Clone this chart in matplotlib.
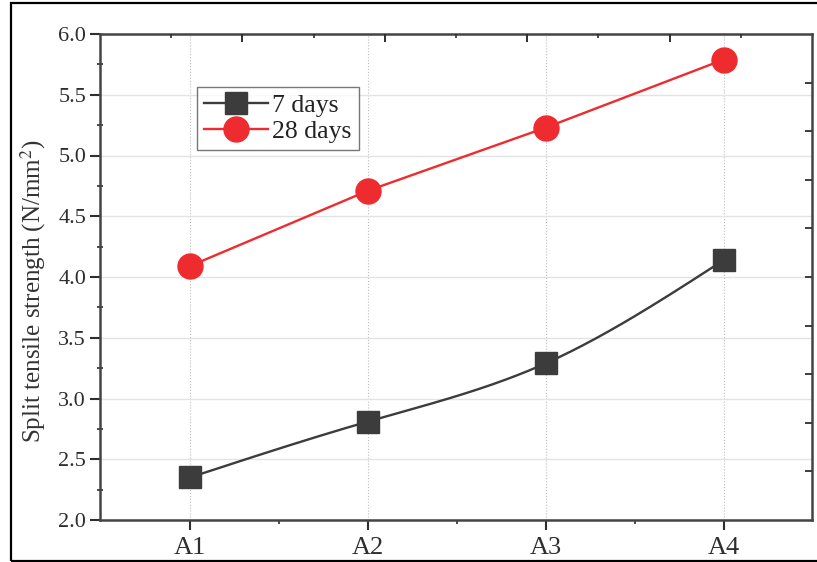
import numpy as np
import matplotlib
matplotlib.use("Agg")
import matplotlib.pyplot as plt
from matplotlib.patches import Rectangle
from matplotlib.lines import Line2D

categories = ["A1", "A2", "A3", "A4"]
days7 = [2.35, 2.81, 3.29, 4.14]
days28 = [4.09, 4.71, 5.23, 5.79]
yticks = [2.0, 2.5, 3.0, 3.5, 4.0, 4.5, 5.0, 5.5, 6.0]


def natural_spline(x, y, n=200):
    x = np.asarray(x, float); y = np.asarray(y, float)
    k = len(x); h = np.diff(x)
    A = np.zeros((k, k)); b = np.zeros(k)
    A[0, 0] = A[-1, -1] = 1
    for i in range(1, k - 1):
        A[i, i - 1] = h[i - 1]; A[i, i] = 2 * (h[i - 1] + h[i]); A[i, i + 1] = h[i]
        b[i] = 6 * ((y[i + 1] - y[i]) / h[i] - (y[i] - y[i - 1]) / h[i - 1])
    M = np.linalg.solve(A, b)
    xs = np.linspace(x[0], x[-1], n)
    idx = np.clip(np.searchsorted(x, xs) - 1, 0, k - 2)
    x0, x1 = x[idx], x[idx + 1]; hh = x1 - x0
    ys = (M[idx] * (x1 - xs) ** 3 / (6 * hh) + M[idx + 1] * (xs - x0) ** 3 / (6 * hh)
          + (y[idx] / hh - M[idx] * hh / 6) * (x1 - xs)
          + (y[idx + 1] / hh - M[idx + 1] * hh / 6) * (xs - x0))
    return xs, ys


plt.rcParams["font.family"] = ["Liberation Serif", "DejaVu Serif"]
plt.rcParams["mathtext.fontset"] = "stix"

fig = plt.figure(figsize=(8.17, 5.62), dpi=100)
ax = fig.add_axes([100 / 817, 42 / 562, 712 / 817, 486 / 562])

x = np.arange(1, len(categories) + 1)
black = "#3c3c3c"
red = "#ee2b2f"

xs, ys = natural_spline(x, days7)
ax.plot(xs, ys, color=black, lw=1.7, zorder=3)
ax.plot(x, days7, ls="none", marker="s", ms=16, color=black, mec=black, zorder=4)
ax.plot(x, days28, color=red, lw=1.7, marker="o", ms=18, mfc=red, mec=red, zorder=4)

ax.set_xlim(0.495, 4.495)
ax.set_ylim(2.0, 6.0)
ax.set_xticks(x)
ax.set_xticklabels(categories)
ax.set_xticks([1.5, 2.5, 3.5], minor=True)
ax.set_yticks(yticks)
ax.set_yticklabels([f"{v:.1f}" for v in yticks])
ax.set_yticks(np.arange(2.25, 6.0, 0.5), minor=True)

tc = "#2e2e2e"
ax.tick_params(axis="x", which="major", direction="out", length=7, width=1.5,
               labelsize=19, colors=tc, pad=5)
ax.tick_params(axis="x", which="minor", direction="out", length=3, width=1.2, colors=tc)
ax.tick_params(axis="y", which="major", direction="out", length=7, width=1.5,
               labelsize=16, colors=tc, pad=3)
ax.tick_params(axis="y", which="minor", direction="inout", length=4, width=1.2, colors=tc)

for s in ax.spines.values():
    s.set_linewidth(1.8)
    s.set_color("#444444")

# grid
ax.grid(axis="x", which="major", color="#bdbdbd", lw=0.8, ls=":")
ax.grid(axis="y", which="major", color="#e3e3e3", lw=1.0, ls="-")
ax.set_axisbelow(True)

ax.set_ylabel("Split tensile strength (N/mm$^2$)", fontsize=18, color="#333333")
ax.yaxis.set_label_coords(-0.094, 0.47)
ax.yaxis.label.set_va("center")

# top & right ticks (inward, unlabelled)
axt = ax.twiny()
axt.set_xlim(0, 10)
axt.set_xticks([2, 4, 6, 8])
axt.set_xticks([1, 3, 5, 7, 9], minor=True)
axt.tick_params(axis="x", which="major", direction="in", length=6, width=1.4,
                labeltop=False, colors=tc)
axt.tick_params(axis="x", which="minor", direction="in", length=3, width=1.2, colors=tc)
axr = ax.twinx()
axr.set_ylim(0, 10)
axr.set_yticks(range(1, 10))
axr.tick_params(axis="y", direction="in", length=5, width=1.3, labelright=False, colors=tc)
for a in (axt, axr):
    for s in a.spines.values():
        s.set_visible(False)

handles = [Line2D([], [], color=black, lw=1.7, marker="s", ms=16),
           Line2D([], [], color=red, lw=1.7, marker="o", ms=18)]
leg = ax.legend(handles, ["7 days", "28 days"], loc="upper left",
                bbox_to_anchor=(0.136, 0.891), borderaxespad=0, fontsize=18.5,
                frameon=True, fancybox=False, handlelength=2.5, handletextpad=0.15,
                borderpad=0.28, labelspacing=0.1)
leg.get_frame().set_edgecolor("#555555")
leg.get_frame().set_linewidth(1.0)
for t in leg.get_texts():
    t.set_color("#222222")

# outer frame
fig.add_artist(Rectangle((11 / 817, 1.5 / 562), 1.0, 557.5 / 562, transform=fig.transFigure,
                         fill=False, lw=1.6, edgecolor="black", clip_on=False))

fig.savefig("out.png", dpi=100)
